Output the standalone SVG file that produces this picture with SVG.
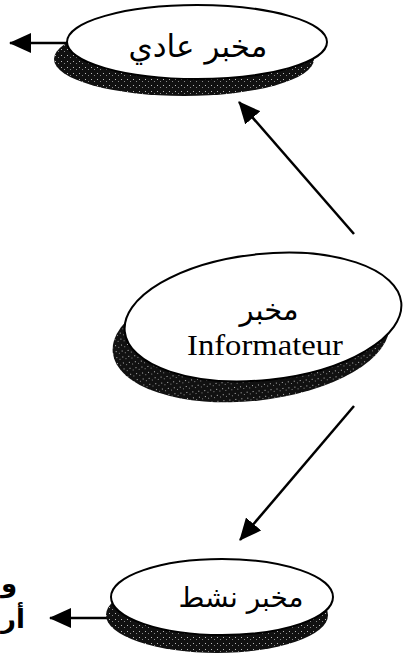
<svg xmlns="http://www.w3.org/2000/svg" width="404" height="654" viewBox="0 0 404 654">
  <style>
    .bg { fill: #ffffff; }
    .node { fill: #ffffff; stroke: #000000; stroke-width: 2; }
    .shadow { fill: url(#dither); }
    .ar { font-family: "DejaVu Sans", "Noto Sans", sans-serif; fill: #000000; }
    .lat { font-family: "Liberation Serif", serif; fill: #000000; }
    .conn { stroke: #000000; stroke-width: 2.5; fill: none; marker-end: url(#arrow); }
  </style>
  <defs>
    <pattern id="dither" width="6" height="6" patternUnits="userSpaceOnUse">
      <rect width="6" height="6" fill="#111111"/>
      <rect x="1" y="1" width="1" height="1" fill="#bbbbbb"/>
      <rect x="4" y="3" width="1" height="1" fill="#888888"/>
    </pattern>
    <marker id="arrow" viewBox="0 0 22 20" refX="21" refY="10" markerWidth="22" markerHeight="20" markerUnits="userSpaceOnUse" orient="auto">
      <path d="M0,0 L22,10 L0,20 Z" fill="#000000"/>
    </marker>
  </defs>
  <rect class="bg" x="0" y="0" width="404" height="654"/>

  <g id="connectors">
    <line class="conn" x1="67" y1="43" x2="10" y2="43"/>
    <line class="conn" x1="354" y1="234" x2="239" y2="102"/>
    <line class="conn" x1="354" y1="406" x2="240" y2="540"/>
    <line class="conn" x1="110" y1="618" x2="50" y2="618"/>
  </g>

  <g id="node-ordinary">
    <ellipse class="shadow" cx="184" cy="59" rx="130" ry="37"/>
    <ellipse class="node" cx="197" cy="42" rx="130" ry="37"/>
    <text class="ar" x="198" y="57" font-size="31" text-anchor="middle">مخبر عادي</text>
  </g>

  <g id="node-informateur">
    <ellipse class="shadow" cx="251" cy="338" rx="139" ry="63" transform="rotate(-6 251 338)"/>
    <ellipse class="node" cx="263" cy="317" rx="139" ry="63" transform="rotate(-6 263 317)"/>
    <text class="ar" x="269" y="320" font-size="29" text-anchor="middle">مخبر</text>
    <text class="lat" x="265" y="355" font-size="29" text-anchor="middle" textLength="156" lengthAdjust="spacingAndGlyphs">Informateur</text>
  </g>

  <g id="node-active">
    <ellipse class="shadow" cx="217" cy="615" rx="111" ry="38"/>
    <ellipse class="node" cx="222" cy="597" rx="111" ry="38"/>
    <text class="ar" x="241" y="607" font-size="28" text-anchor="middle">مخبر نشط</text>
  </g>

  <g id="margin-text">
    <text class="ar" x="1" y="592" font-size="26" font-weight="bold" text-anchor="start">و</text>
    <text class="ar" x="1" y="628" font-size="26" font-weight="bold" text-anchor="start">أر</text>
  </g>
</svg>
